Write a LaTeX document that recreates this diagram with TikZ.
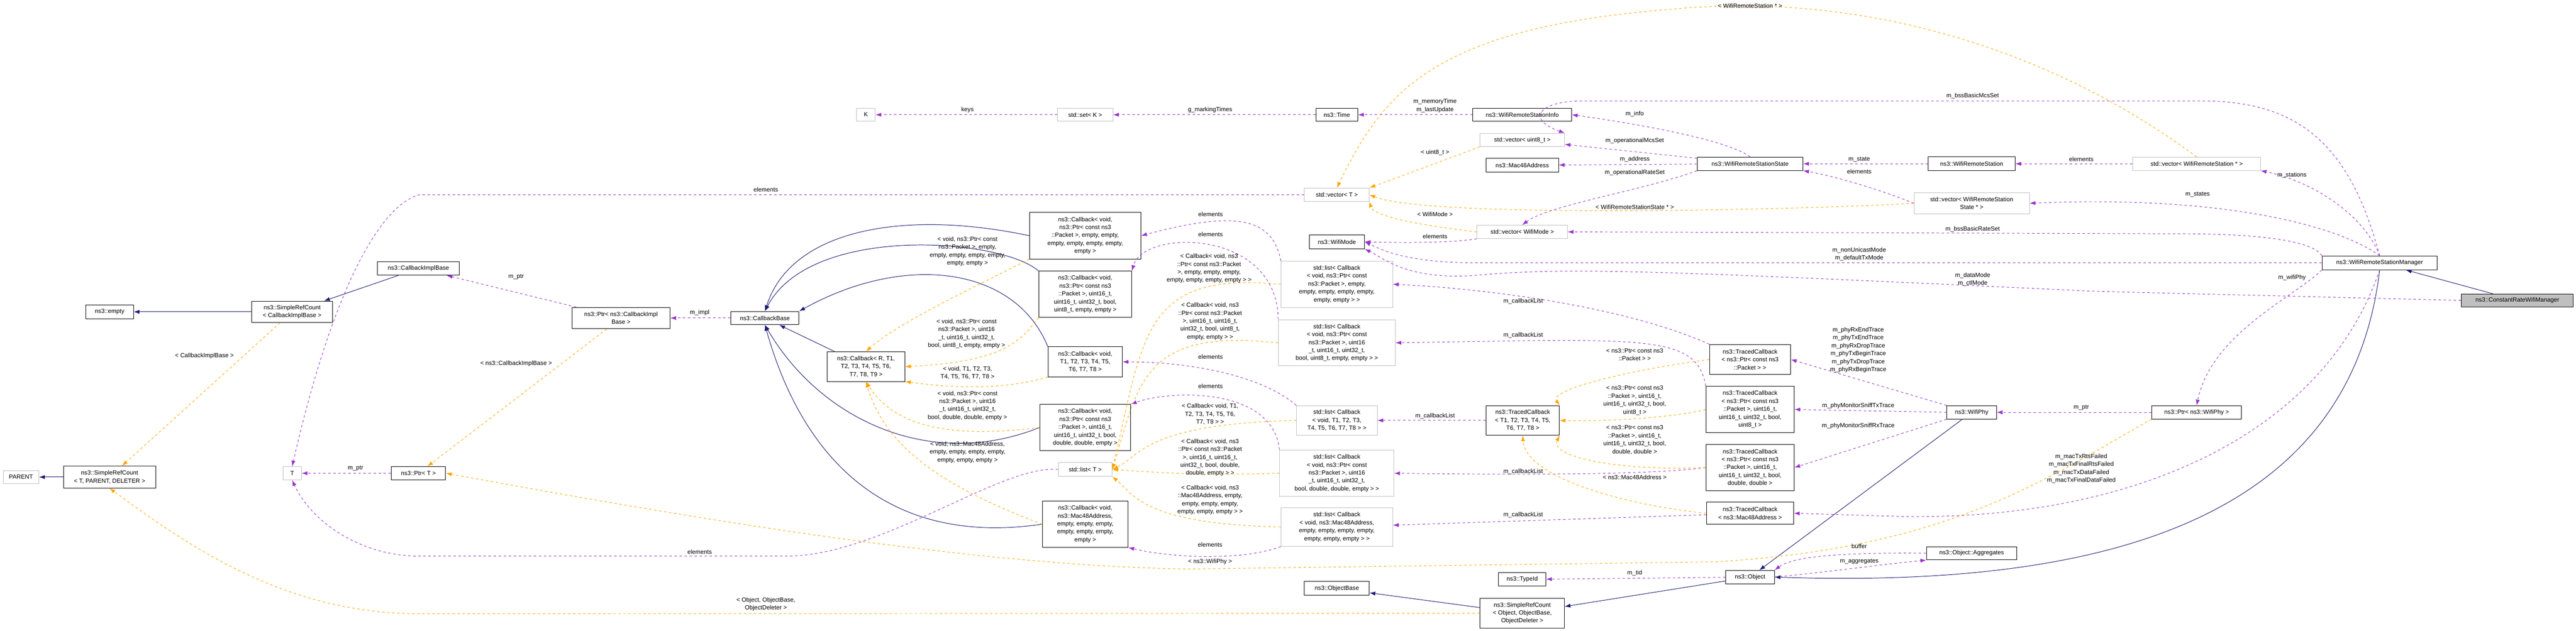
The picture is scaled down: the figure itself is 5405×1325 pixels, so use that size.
\documentclass[tikz,border=0pt]{standalone}
\usepackage{fontspec}
\setmainfont{Liberation Sans}
\usetikzlibrary{arrows.meta}
\definecolor{navy1}{HTML}{191970}
\definecolor{purple1}{HTML}{9A32CD}
\definecolor{orange1}{HTML}{FFA500}
\definecolor{gray1}{HTML}{BFBFBF}
\begin{document}
\begin{tikzpicture}[x=0.02cm, y=-0.02cm, line width=0.6pt,
  font=\fontsize{7.2}{9.5}\selectfont,
  box/.style={draw=black, fill=white, align=center, inner sep=1pt},
  gbox/.style={box, draw=gray1},
  sz/.style 2 args={minimum width=#1*0.02cm, minimum height=#2*0.02cm},
  lbl/.style={align=center, inner sep=0pt},
  inh/.style={draw=navy1, -{Latex[length=0.24cm,width=0.17cm]}},
  use/.style={draw=purple1, dashed, -{Latex[length=0.24cm,width=0.17cm]}},
  tpl/.style={draw=orange1, dashed, -{Latex[length=0.24cm,width=0.17cm]}}]
\useasboundingbox (0,0) rectangle (5405,1325);

% classes
\node[gbox, sz={75}{27}] (parent) at (44,1002) {PARENT};
\node[box, sz={194}{46}] (srcT) at (230,1002) {ns3::SimpleRefCount\\{}< T, PARENT, DELETER >};
\node[box, sz={100}{29}] (empty) at (230,655) {ns3::empty};
\node[box, sz={170}{45}] (srcCIB) at (613,655) {ns3::SimpleRefCount\\{}< CallbackImplBase >};
\node[box, sz={172}{28}] (cib) at (878,564) {ns3::CallbackImplBase};
\node[gbox, sz={39}{28}] (T) at (613,994) {T};
\node[box, sz={114}{28}] (ptrT) at (878,994) {ns3::Ptr< T >};
\node[box, sz={206}{45}] (ptrCIB) at (1303,668) {ns3::Ptr< ns3::CallbackImpl\\Base >};
\node[box, sz={143}{28}] (cbBase) at (1605,668) {ns3::CallbackBase};
\node[box, sz={163}{62}] (cbR) at (1817,770) {ns3::Callback< R, T1,\\T2, T3, T4, T5, T6,\\T7, T8, T9 >};
\node[gbox, sz={39}{28}] (K) at (1817,241) {K};
\node[gbox, sz={116}{28}] (set) at (2277,241) {std::set< K >};
\node[box, sz={234}{98}] (cbA) at (2277,495) {ns3::Callback< void,\\ns3::Ptr< const ns3\\::Packet >, empty, empty,\\empty, empty, empty, empty,\\empty >};
\node[box, sz={195}{97}] (cbB) at (2277,618) {ns3::Callback< void,\\ns3::Ptr< const ns3\\::Packet >, uint16\_t,\\uint16\_t, uint32\_t, bool,\\uint8\_t, empty, empty >};
\node[box, sz={156}{63}] (cbT8) at (2277,760) {ns3::Callback< void,\\T1, T2, T3, T4, T5,\\T6, T7, T8 >};
\node[box, sz={191}{97}] (cbD) at (2277,898) {ns3::Callback< void,\\ns3::Ptr< const ns3\\::Packet >, uint16\_t,\\uint16\_t, uint32\_t, bool,\\double, double, empty >};
\node[gbox, sz={113}{29}] (listT) at (2277,986) {std::list< T >};
\node[box, sz={180}{97}] (cbMac) at (2277,1101) {ns3::Callback< void,\\ns3::Mac48Address,\\empty, empty, empty,\\empty, empty, empty,\\empty >};
\node[box, sz={88}{28}] (time) at (2805,241) {ns3::Time};
\node[gbox, sz={136}{28}] (vecT) at (2805,409) {std::vector< T >};
\node[box, sz={116}{29}] (wm) at (2805,508) {ns3::WifiMode};
\node[gbox, sz={234}{97}] (L1) at (2805,597) {std::list< Callback\\{}< void, ns3::Ptr< const\\ns3::Packet >, empty,\\empty, empty, empty, empty,\\empty, empty > >};
\node[gbox, sz={245}{97}] (L2) at (2805,720) {std::list< Callback\\{}< void, ns3::Ptr< const\\ns3::Packet >, uint16\\\_t, uint16\_t, uint32\_t,\\bool, uint8\_t, empty, empty > >};
\node[gbox, sz={169}{62}] (L3) at (2805,883) {std::list< Callback\\{}< void, T1, T2, T3,\\T4, T5, T6, T7, T8 > >};
\node[gbox, sz={240}{98}] (L4) at (2805,994) {std::list< Callback\\{}< void, ns3::Ptr< const\\ns3::Packet >, uint16\\\_t, uint16\_t, uint32\_t,\\bool, double, double, empty > >};
\node[gbox, sz={234}{81}] (L5) at (2805,1107) {std::list< Callback\\{}< void, ns3::Mac48Address,\\empty, empty, empty, empty,\\empty, empty, empty > >};
\node[box, sz={136}{29}] (objBase) at (2805,1236) {ns3::ObjectBase};
\node[box, sz={207}{28}] (info) at (3194,241) {ns3::WifiRemoteStationInfo};
\node[gbox, sz={177}{28}] (vecU8) at (3194,294) {std::vector< uint8\_t >};
\node[box, sz={152}{29}] (mac48) at (3194,347) {ns3::Mac48Address};
\node[gbox, sz={190}{28}] (vecWM) at (3194,487) {std::vector< WifiMode >};
\node[box, sz={154}{62}] (tcT8) at (3195,883) {ns3::TracedCallback\\{}< T1, T2, T3, T4, T5,\\T6, T7, T8 >};
\node[box, sz={99}{28}] (typeId) at (3194,1217) {ns3::TypeId};
\node[box, sz={177}{63}] (srcObj) at (3194,1288) {ns3::SimpleRefCount\\{}< Object, ObjectBase,\\ObjectDeleter >};
\node[box, sz={222}{28}] (state) at (3672,344) {ns3::WifiRemoteStationState};
\node[box, sz={170}{63}] (tcPkt) at (3672,755) {ns3::TracedCallback\\{}< ns3::Ptr< const ns3\\::Packet > >};
\node[box, sz={185}{98}] (tcU8) at (3672,860) {ns3::TracedCallback\\{}< ns3::Ptr< const ns3\\::Packet >, uint16\_t,\\uint16\_t, uint32\_t, bool,\\uint8\_t >};
\node[box, sz={185}{98}] (tcDbl) at (3672,982) {ns3::TracedCallback\\{}< ns3::Ptr< const ns3\\::Packet >, uint16\_t,\\uint16\_t, uint32\_t, bool,\\double, double >};
\node[box, sz={183}{46}] (tcMac) at (3672,1078) {ns3::TracedCallback\\{}< ns3::Mac48Address >};
\node[box, sz={102}{28}] (obj) at (3672,1212) {ns3::Object};
\node[box, sz={182}{29}] (wrs) at (4137,344) {ns3::WifiRemoteStation};
\node[gbox, sz={242}{45}] (vecState) at (4137,427) {std::vector< WifiRemoteStation\\State * >};
\node[box, sz={104}{28}] (phy) at (4137,866) {ns3::WifiPhy};
\node[box, sz={190}{28}] (agg) at (4137,1162) {ns3::Object::Aggregates};
\node[gbox, sz={268}{28}] (vecWRS) at (4609,344) {std::vector< WifiRemoteStation * >};
\node[box, sz={188}{28}] (ptrPhy) at (4609,866) {ns3::Ptr< ns3::WifiPhy >};
\node[box, sz={242}{29}] (mgr) at (4993,552) {ns3::WifiRemoteStationManager};
\node[box, fill=gray1, sz={235}{27}] (cr) at (5282,631) {ns3::ConstantRateWifiManager};

% inheritance
\draw[inh] (srcCIB) -- (empty);
\draw[inh] (cib) -- (srcCIB);
\draw[inh] (srcT) -- (parent);
\draw[inh] (cbA.west) .. controls (1900,440) and (1660,480) .. (cbBase.north);
\draw[inh] (cbB.north west) .. controls (2100,500) and (1700,470) .. (cbBase.north);
\draw[inh] (cbT8.north west) .. controls (2130,560) and (1900,530) .. (cbBase.north east);
\draw[inh] (cbR) -- (cbBase);
\draw[inh] (cbD.west) .. controls (1950,990) and (1720,880) .. (cbBase.south);
\draw[inh] (cbMac.west) .. controls (1850,1150) and (1680,950) .. (cbBase.south);
\draw[inh] (cr) -- (mgr);
\draw[inh] (mgr.south) .. controls (4930,1100) and (4400,1235) .. (obj.east);
\draw[inh] (phy) -- (obj);
\draw[inh] (obj) -- (srcObj);
\draw[inh] (srcObj) -- (objBase);

% usage
\draw[use] (ptrCIB) -- (cib);
\draw[use] (cbBase) -- (ptrCIB);
\draw[use] (ptrT) -- (T);
\draw[use] (vecT.west) -- (880,409) .. controls (800,430) and (700,600) .. (T.north);
\draw[use] (listT.west) .. controls (2100,975) and (1850,1168) .. (1650,1168) -- (880,1168) .. controls (750,1168) and (650,1090) .. (T.south);
\draw[use] (set) -- (K);
\draw[use] (time) -- (set);
\draw[use] (info) -- (time);
\draw[use] (state.north) .. controls (3620,290) and (3400,255) .. (info.east);
\draw[use] (state) -- (vecU8);
\draw[use] (state) -- (mac48);
\draw[use] (state.south west) .. controls (3450,400) and (3250,430) .. (vecWM.north);
\draw[use] (vecWM.south west) .. controls (3050,510) and (2950,510) .. (wm.east);
\draw[use] (wrs) -- (state);
\draw[use] (vecState.west) .. controls (3950,400) and (3850,370) .. (state.south east);
\draw[use] (vecWRS) -- (wrs);
\draw[use] (mgr.north) .. controls (4960,450) and (4850,380) .. (vecWRS.south east);
\draw[use] (mgr.north) .. controls (4900,470) and (4650,410) .. (vecState.east);
\draw[use] (mgr.north) .. controls (4930,300) and (4820,212) .. (4620,212) -- (3320,212) .. controls (3230,212) and (3200,250) .. (vecU8.north east);
\draw[use] (mgr.north west) .. controls (4850,500) and (4700,491) .. (4580,491) -- (vecWM.east);
\draw[use] (mgr.west) -- (3100,552) .. controls (2950,552) and (2900,525) .. (wm.east);
\draw[use] (cr.west) -- (4400,612) .. controls (3500,570) and (3300,560) .. (3100,578) .. controls (2950,590) and (2900,540) .. (wm.south east);
\draw[use] (mgr.south west) .. controls (4820,620) and (4640,700) .. (ptrPhy.north);
\draw[use] (ptrPhy) -- (phy);
\draw[use] (phy.north west) -- (tcPkt.east);
\draw[use] (phy.west) -- (tcU8.east);
\draw[use] (phy.south west) -- (tcDbl.east);
\draw[use] (mgr.south) .. controls (4880,900) and (4500,1090) .. (4000,1085) -- (tcMac.east);
\draw[use] (tcPkt.north west) .. controls (3400,640) and (3100,605) .. (L1.east);
\draw[use] (tcU8.north west) .. controls (3560,700) and (3450,712) .. (L2.east);
\draw[use] (tcT8) -- (L3);
\draw[use] (tcDbl.west) .. controls (3450,1000) and (3100,996) .. (L4.east);
\draw[use] (tcMac) -- (L5);
\draw[use] (L1.north west) .. controls (2670,460) and (2600,440) .. (cbA.east);
\draw[use] (L2.north west) .. controls (2680,480) and (2400,480) .. (cbB.north east);
\draw[use] (L3.north west) .. controls (2650,790) and (2500,760) .. (cbT8.east);
\draw[use] (L4.north west) .. controls (2670,810) and (2450,820) .. (cbD.north east);
\draw[use] (L5.south west) .. controls (2600,1180) and (2450,1170) .. (cbMac.south east);
\draw[use] (obj) -- (typeId);
\draw[use] (agg.west) .. controls (3850,1160) and (3760,1170) .. (obj.north east);
\draw[use] (obj.east) .. controls (3850,1200) and (3950,1185) .. (agg.south west);

% templates
\draw[tpl] (srcCIB) -- (srcT);
\draw[tpl] (srcObj.west) -- (880,1289) .. controls (600,1289) and (400,1150) .. (srcT.south);
\draw[tpl] (ptrCIB) -- (ptrT);
\draw[tpl] (ptrPhy.south west) .. controls (4300,1000) and (4100,1150) .. (3600,1180) -- (2500,1195) .. controls (2000,1190) and (1300,1060) .. (ptrT.east);
\draw[tpl] (cbA.south west) .. controls (2050,600) and (1880,680) .. (cbR.north);
\draw[tpl] (cbB.south west) .. controls (2140,720) and (2100,760) .. (cbR.east);
\draw[tpl] (cbT8.south west) .. controls (2100,820) and (2000,815) .. (cbR.south east);
\draw[tpl] (cbD.west) .. controls (2000,920) and (1880,900) .. (cbR.south);
\draw[tpl] (cbMac.west) .. controls (2000,1030) and (1860,950) .. (cbR.south);
\draw[tpl] (L1.west) .. controls (2400,570) and (2400,700) .. (listT.east);
\draw[tpl] (L2.west) .. controls (2400,690) and (2390,800) .. (listT.east);
\draw[tpl] (L3.west) .. controls (2400,890) and (2390,960) .. (listT.east);
\draw[tpl] (L4.west) .. controls (2500,1000) and (2400,990) .. (listT.east);
\draw[tpl] (L5.west) .. controls (2400,1100) and (2380,1040) .. (listT.south east);
\draw[tpl] (vecWRS.north) .. controls (4300,100) and (3900,-20) .. (3500,20) .. controls (3000,60) and (2900,200) .. (vecT.north);
\draw[tpl] (vecU8.south west) -- (vecT.north east);
\draw[tpl] (vecState.west) .. controls (3800,440) and (3000,460) .. (vecT.east);
\draw[tpl] (vecWM.west) .. controls (2950,470) and (2880,450) .. (vecT.south east);
\draw[tpl] (tcPkt.west) .. controls (3400,780) and (3250,820) .. (tcT8.north east);
\draw[tpl] (tcU8.west) .. controls (3500,880) and (3350,885) .. (tcT8.east);
\draw[tpl] (tcDbl.west) .. controls (3400,990) and (3250,960) .. (tcT8.south east);
\draw[tpl] (tcMac.west) .. controls (3400,1060) and (3200,1000) .. (tcT8.south);

% labels
\node[lbl] (lPtrCib) at (1083,582) {m\_ptr};
\node[lbl] (lSrcCib) at (429,748) {< CallbackImplBase >};
\node[lbl] (lPtrT) at (1083,764) {< ns3::CallbackImplBase >};
\node[lbl] (lPtrTT) at (746,984) {m\_ptr};
\node[lbl] (lImpl) at (1468,657) {m\_impl};
\node[lbl] (lElT) at (1607,398) {elements};
\node[lbl] (lElT2) at (1468,1159) {elements};
\node[lbl] (lObj) at (1607,1269) {< Object, ObjectBase,\\ObjectDeleter >};
\node[lbl] (lKeys) at (2030,231) {keys};
\node[lbl] (lMark) at (2539,231) {g\_markingTimes};
\node[lbl] (lcbA) at (2030,528) {< void, ns3::Ptr< const\\ns3::Packet >, empty,\\empty, empty, empty, empty,\\empty, empty >};
\node[lbl] (lcbB) at (2028,701) {< void, ns3::Ptr< const\\ns3::Packet >, uint16\\\_t, uint16\_t, uint32\_t,\\bool, uint8\_t, empty, empty >};
\node[lbl] (lcbT8) at (2030,783) {< void, T1, T2, T3,\\T4, T5, T6, T7, T8 >};
\node[lbl] (lcbD) at (2030,852) {< void, ns3::Ptr< const\\ns3::Packet >, uint16\\\_t, uint16\_t, uint32\_t,\\bool, double, double, empty >};
\node[lbl] (lcbMac) at (2030,950) {< void, ns3::Mac48Address,\\empty, empty, empty, empty,\\empty, empty, empty >};
\node[lbl] (lEl1) at (2540,450) {elements};
\node[lbl] (lEl2) at (2540,492) {elements};
\node[lbl] (lL1) at (2537,564) {< Callback< void, ns3\\::Ptr< const ns3::Packet\\>, empty, empty, empty,\\empty, empty, empty, empty > >};
\node[lbl] (lL2) at (2539,675) {< Callback< void, ns3\\::Ptr< const ns3::Packet\\>, uint16\_t, uint16\_t,\\uint32\_t, bool, uint8\_t,\\empty, empty > >};
\node[lbl] (lEl3) at (2540,750) {elements};
\node[lbl] (lEl4) at (2540,811) {elements};
\node[lbl] (lL3) at (2539,870) {< Callback< void, T1,\\T2, T3, T4, T5, T6,\\T7, T8 > >};
\node[lbl] (lL4) at (2539,961) {< Callback< void, ns3\\::Ptr< const ns3::Packet\\>, uint16\_t, uint16\_t,\\uint32\_t, bool, double,\\double, empty > >};
\node[lbl] (lL5) at (2539,1050) {< Callback< void, ns3\\::Mac48Address, empty,\\empty, empty, empty,\\empty, empty, empty > >};
\node[lbl] (lEl5) at (2539,1144) {elements};
\node[lbl] (lPhy) at (2539,1180) {< ns3::WifiPhy >};
\node[lbl] (lTime) at (3011,222) {m\_memoryTime\\m\_lastUpdate};
\node[lbl] (lU8) at (3011,320) {< uint8\_t >};
\node[lbl] (lWM) at (3011,450) {< WifiMode >};
\node[lbl] (lElWM) at (3011,497) {elements};
\node[lbl] (lInfo) at (3430,239) {m\_info};
\node[lbl] (lMcs) at (3430,296) {m\_operationalMcsSet};
\node[lbl] (lAddr) at (3430,335) {m\_address};
\node[lbl] (lRate) at (3430,363) {m\_operationalRateSet};
\node[lbl] (lStateP) at (3430,435) {< WifiRemoteStationState * >};
\node[lbl] (lStaP) at (3672,12) {< WifiRemoteStation * >};
\node[lbl] (lState) at (3901,335) {m\_state};
\node[lbl] (lElSt) at (3901,360) {elements};
\node[lbl] (lNonU) at (3901,534) {m\_nonUnicastMode\\m\_defaultTxMode};
\node[lbl] (lCb1) at (3196,633) {m\_callbackList};
\node[lbl] (lCb2) at (3196,704) {m\_callbackList};
\node[lbl] (lCb3) at (3011,874) {m\_callbackList};
\node[lbl] (lCb4) at (3196,991) {m\_callbackList};
\node[lbl] (lCb5) at (3196,1081) {m\_callbackList};
\node[lbl] (lTc1) at (3430,745) {< ns3::Ptr< const ns3\\::Packet > >};
\node[lbl] (lTc2) at (3430,841) {< ns3::Ptr< const ns3\\::Packet >, uint16\_t,\\uint16\_t, uint32\_t, bool,\\uint8\_t >};
\node[lbl] (lTc3) at (3430,924) {< ns3::Ptr< const ns3\\::Packet >, uint16\_t,\\uint16\_t, uint32\_t, bool,\\double, double >};
\node[lbl] (lTc4) at (3430,1002) {< ns3::Mac48Address >};
\node[lbl] (lTid) at (3430,1204) {m\_tid};
\node[lbl] (lTraces) at (3899,735) {m\_phyRxEndTrace\\m\_phyTxEndTrace\\m\_phyRxDropTrace\\m\_phyTxBeginTrace\\m\_phyTxDropTrace\\m\_phyRxBeginTrace};
\node[lbl] (lSniffTx) at (3899,852) {m\_phyMonitorSniffTxTrace};
\node[lbl] (lSniffRx) at (3899,895) {m\_phyMonitorSniffRxTrace};
\node[lbl] (lBuf) at (3901,1147) {buffer};
\node[lbl] (lAgg) at (3901,1179) {m\_aggregates};
\node[lbl] (lMcsB) at (4139,202) {m\_bssBasicMcsSet};
\node[lbl] (lElWrs) at (4367,334) {elements};
\node[lbl] (lRateB) at (4139,482) {m\_bssBasicRateSet};
\node[lbl] (lData) at (4139,587) {m\_dataMode\\m\_ctlMode};
\node[lbl] (lStates) at (4611,409) {m\_states};
\node[lbl] (lStations) at (4809,368) {m\_stations};
\node[lbl] (lWifiPhy) at (4809,583) {m\_wifiPhy};
\node[lbl] (lPtrPhy) at (4367,856) {m\_ptr};
\node[lbl] (lMacTx) at (4367,984) {m\_macTxRtsFailed\\m\_macTxFinalRtsFailed\\m\_macTxDataFailed\\m\_macTxFinalDataFailed};
\end{tikzpicture}
\end{document}
